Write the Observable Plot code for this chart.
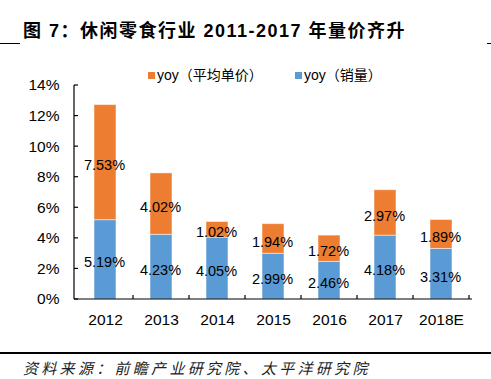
<!DOCTYPE html>
<html>
<head>
<meta charset="utf-8">
<script src="https://cdn.jsdelivr.net/npm/d3@7"></script>
<script src="https://cdn.jsdelivr.net/npm/@observablehq/plot@0.6"></script>
<style>
  html, body { margin: 0; padding: 0; background: #fff; }
  #wrap { position: relative; width: 491px; height: 379px; overflow: hidden; font-family: "Liberation Sans", Arial, "Noto Sans CJK SC", sans-serif; }
  #chart { position: absolute; left: 0; top: 0; }
  .title { position: absolute; left: 23px; top: 19px; font-size: 18px; font-weight: bold; letter-spacing: 1.5px; font-family: "Liberation Sans", Arial, "Noto Sans CJK SC", sans-serif; color: #000; white-space: nowrap; line-height: 24px; }
  .hline { position: absolute; height: 1px; background: #000; }
  .legend { position: absolute; top: 66px; font-size: 14px; font-family: "Liberation Sans", Arial, "Noto Sans CJK SC", sans-serif; color: #000; white-space: nowrap; line-height: 18px; }
  .sw { display: inline-block; width: 7px; height: 7px; margin-right: 2px; vertical-align: 1px; }
  .footer { position: absolute; left: 23px; top: 358px; font-size: 15px; font-style: italic; letter-spacing: 3.3px; color: #222; white-space: nowrap; font-family: "Noto Sans CJK SC", sans-serif; line-height: 20px; }
</style>
</head>
<body>
<div id="wrap">
  <div id="chart"></div>
  <div class="title">图 7：休闲零食行业 2011-2017 年量价齐升</div>
  <div class="hline" style="left:0;top:43px;width:20px;"></div>
  <div class="hline" style="left:487px;top:43px;width:4px;"></div>
  <div id="legend"></div>
  <div class="hline" style="left:0;top:352px;width:491px;height:1.5px;"></div>
  <div class="footer">资料来源：前瞻产业研究院、太平洋研究院</div>
</div>
<script>
const years = ["2012", "2013", "2014", "2015", "2016", "2017", "2018E"];
const priceYoy = [7.53, 4.02, 1.02, 1.94, 1.72, 2.97, 1.89];
const volumeYoy = [5.19, 4.23, 4.05, 2.99, 2.46, 4.18, 3.31];
const seriesNames = ["yoy（平均单价）", "yoy（销量）"];
const seriesColors = ["#ED7D31", "#5B9BD5"];
const yTicks = [0, 2, 4, 6, 8, 10, 12, 14];

const data = [];
years.forEach((y, i) => {
  data.push({year: y, series: seriesNames[1], value: volumeYoy[i], order: 0});
  data.push({year: y, series: seriesNames[0], value: priceYoy[i], order: 1});
});

const axisMarks = (index, scales, values, dimensions) => {
  const g = d3.create("svg:g").attr("stroke", "#000").attr("stroke-width", 1.2);
  const x = scales.x, y = scales.y;
  const x0 = dimensions.marginLeft, x1 = dimensions.width - dimensions.marginRight;
  const yb = y(0);
  yTicks.forEach(t => {
    g.append("line").attr("x1", x0).attr("x2", x0 + 4).attr("y1", y(t)).attr("y2", y(t));
  });
  const step = x.step();
  years.forEach((c, i) => {
    const bx = x(c) - (step - x.bandwidth()) / 2 + step;
    g.append("line").attr("x1", bx).attr("x2", bx).attr("y1", yb).attr("y2", yb - 4);
  });
  g.append("line").attr("x1", x0).attr("x2", x0).attr("y1", y(yTicks[yTicks.length - 1])).attr("y2", yb);
  g.append("line").attr("x1", x0).attr("x2", x1).attr("y1", yb).attr("y2", yb);
  return g.node();
};

const chart = Plot.plot({
  width: 491,
  height: 379,
  marginLeft: 74,
  marginRight: 19,
  marginTop: 85,
  marginBottom: 80,
  style: {fontFamily: "'Liberation Sans', Arial, sans-serif", fontSize: "15.5px", color: "#000", background: "transparent"},
  x: {domain: years, paddingInner: 0.61, paddingOuter: 0.305, label: null},
  y: {domain: [0, 14], label: null},
  color: {domain: seriesNames, range: seriesColors},
  marks: [
    Plot.barY(data, {x: "year", y: "value", fill: "series", order: "order", stroke: "#fff", strokeOpacity: 0.5, strokeWidth: 1}),
    Plot.text(data, Plot.stackY({x: "year", y: "value", order: "order", text: d => d.value.toFixed(2) + "%", fontSize: 14.5, dy: 3, dx: -1, fill: "#000"})),
    Plot.axisY({ticks: yTicks, tickFormat: d => d + "%", tickSize: 0, tickPadding: 15, fontSize: 15.5}),
    Plot.axisX({tickSize: 0, tickPadding: 14, fontSize: 15.5}),
    axisMarks
  ]
});
document.getElementById("chart").appendChild(chart);

const legend = document.getElementById("legend");
const legendX = [148, 295];
seriesNames.forEach((name, i) => {
  const el = document.createElement("div");
  el.className = "legend";
  el.style.left = legendX[i] + "px";
  el.innerHTML = `<span class="sw" style="background:${seriesColors[i]}"></span>${name}`;
  legend.appendChild(el);
});
</script>
</body>
</html>
